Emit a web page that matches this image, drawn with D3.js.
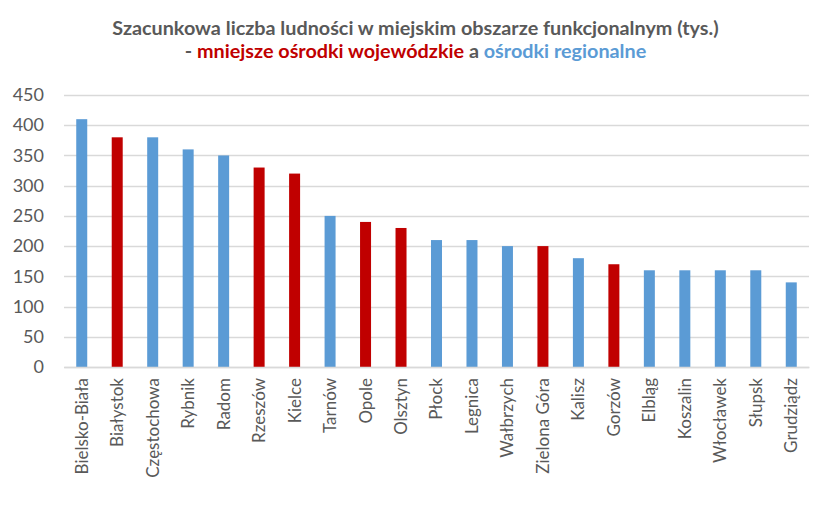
<!DOCTYPE html>
<html>
<head>
<meta charset="utf-8">
<script src="https://cdn.jsdelivr.net/npm/d3@7"></script>
<style>
  body { margin: 0; background: #fff; }
  svg { display: block; }
</style>
</head>
<body>
<div id="chart"></div>
<script>
// Data
var cities = ["Bielsko-Biała", "Białystok", "Częstochowa", "Rybnik", "Radom", "Rzeszów", "Kielce",
  "Tarnów", "Opole", "Olsztyn", "Płock", "Legnica", "Wałbrzych", "Zielona Góra", "Kalisz",
  "Gorzów", "Elbląg", "Koszalin", "Włocławek", "Słupsk", "Grudziądz"];
var population = [410, 380, 380, 360, 350, 330, 320, 250, 240, 230, 210, 210, 200, 200, 180,
  170, 160, 160, 160, 160, 140];
// "w" = mniejsze ośrodki wojewódzkie, "r" = ośrodki regionalne
var cityType = ["r", "w", "r", "r", "r", "w", "w", "r", "w", "w", "r", "r", "r", "w", "r",
  "w", "r", "r", "r", "r", "r"];
var yTicks = [0, 50, 100, 150, 200, 250, 300, 350, 400, 450];

var width = 831, height = 506;
var margin = { top: 95, right: 22, bottom: 139, left: 64 };
var innerW = width - margin.left - margin.right;
var innerH = height - margin.top - margin.bottom;

var colors = { w: "#C00000", r: "#5B9BD5" };
var font = "Lato, 'Open Sans', sans-serif";

var data = cities.map(function(c, i) {
  return { city: c, value: population[i], type: cityType[i] };
});

var svg = d3.select("#chart").append("svg")
  .attr("width", width).attr("height", height);

// title, two lines
var title = svg.append("g").attr("font-family", font).attr("font-weight", "bold")
  .attr("text-anchor", "middle");
title.append("text").attr("x", 415.5).attr("y", 35)
  .attr("font-size", 19.8).attr("fill", "#595959")
  .text("Szacunkowa liczba ludności w miejskim obszarze funkcjonalnym (tys.)");
var t2 = title.append("text").attr("x", 415.5).attr("y", 58).attr("font-size", 19.8);
t2.append("tspan").attr("fill", "#595959").text("- ");
t2.append("tspan").attr("fill", colors.w).text("mniejsze ośrodki wojewódzkie");
t2.append("tspan").attr("fill", "#595959").text(" a ");
t2.append("tspan").attr("fill", colors.r).text("ośrodki regionalne");

var g = svg.append("g").attr("transform", "translate(" + margin.left + "," + margin.top + ")");

var x = d3.scaleBand().domain(cities).range([0, innerW]).paddingInner(0.69).paddingOuter(0.345);
var y = d3.scaleLinear().domain([0, 450]).range([innerH, 0]);

// gridlines
g.append("g").selectAll("line").data(yTicks).enter().append("line")
  .attr("x1", 0).attr("x2", innerW)
  .attr("y1", function(d) { return Math.round(y(d)) + 0.5; })
  .attr("y2", function(d) { return Math.round(y(d)) + 0.5; })
  .attr("stroke", "#D9D9D9").attr("stroke-width", 1.3);

// bars
g.append("g").selectAll("rect").data(data).enter().append("rect")
  .attr("x", function(d) { return x(d.city); })
  .attr("y", function(d) { return y(d.value); })
  .attr("width", x.bandwidth())
  .attr("height", function(d) { return innerH - y(d.value); })
  .attr("fill", function(d) { return colors[d.type]; });

// y axis
var yAxis = g.append("g").call(d3.axisLeft(y).tickValues(yTicks).tickSize(0).tickPadding(20));
yAxis.select(".domain").remove();
yAxis.selectAll("text").attr("font-family", font).attr("font-size", 18).attr("fill", "#595959");

// x axis with rotated city names
var xAxis = g.append("g").attr("transform", "translate(0," + innerH + ")")
  .call(d3.axisBottom(x).tickSize(0).tickPadding(0));
xAxis.select(".domain").attr("stroke", "#D9D9D9").attr("stroke-width", 1.3);
xAxis.selectAll("text")
  .attr("font-family", font).attr("font-size", 17).attr("fill", "#595959")
  .attr("transform", "rotate(-90)")
  .attr("text-anchor", "end")
  .attr("x", -11).attr("y", 0).attr("dy", "0.35em");
</script>
</body>
</html>
